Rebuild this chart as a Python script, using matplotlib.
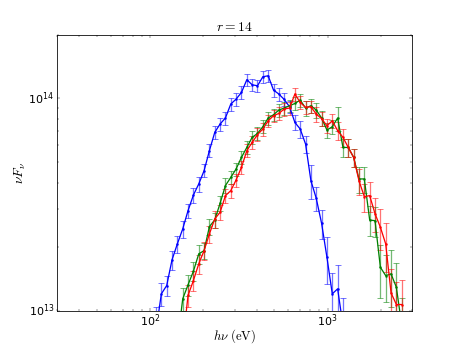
#!/usr/bin/env python3
# -*- coding: utf-8 -*-

"""
nuF_nu spectra at r = 14, three runs with error bars.
"""

import matplotlib
matplotlib.use("Agg")
import matplotlib.pyplot as plt
import numpy as np


DPI = 57.3

# shared photon-energy grid (eV)
ENERGY = [
    108.0, 115.8, 124.1, 133.0, 142.5, 152.8, 163.7, 175.5, 188.1, 201.6,
    216.0, 231.5, 248.1, 265.9, 285.0, 305.5, 327.4, 350.9, 376.1, 403.1,
    432.0, 463.0, 496.2, 531.8, 570.0, 610.9, 654.7, 701.7, 752.1, 806.1,
    863.9, 925.9, 992.4, 1063.6, 1140.0, 1222.0, 1309.0, 1403.0, 1504.0, 1612.0,
    1728.0, 1852.0, 1985.0, 2127.0, 2280.0, 2443.0, 2619.0,
]

# blue: grid index 0..35 (units of 1e13)
BLUE_FLUX = [
    0.80, 1.198, 1.311, 1.733, 2.061, 2.425, 2.957, 3.50, 3.95, 4.56,
    5.67, 6.91, 7.57, 8.08, 9.40, 9.92, 10.66, 12.24, 11.59, 11.46,
    12.64, 12.78, 10.94, 10.48, 9.88, 9.13, 7.70, 7.17, 6.09, 4.09,
    3.38, 2.576, 1.782, 1.198, 1.265, 0.85,
]
BLUE_REL = [
    0.30, 0.12, 0.11, 0.10, 0.09, 0.09, 0.08, 0.08, 0.08, 0.07,
    0.07, 0.07, 0.07, 0.07, 0.07, 0.07, 0.07, 0.07, 0.07, 0.07,
    0.07, 0.07, 0.07, 0.07, 0.07, 0.07, 0.08, 0.09, 0.09, 0.18,
    0.13, 0.16, 0.25, 0.25, 0.30, 0.35,
]

# green: grid index 4..46
GREEN_FLUX = [
    0.70, 1.135, 1.321, 1.531, 1.849, 1.916, 2.486, 2.673, 3.20, 3.88,
    4.24, 4.65, 5.27, 5.87, 6.55, 6.83, 7.35, 8.08, 8.37, 8.81,
    9.00, 9.23, 9.46, 9.82, 9.00, 9.23, 8.81, 8.08, 7.09, 7.35,
    8.08, 5.87, 5.87, 5.27, 4.17, 4.17, 2.67, 2.65, 1.599, 1.46,
    1.488, 1.287, 0.85,
]
GREEN_REL = [
    0.20, 0.12, 0.11, 0.10, 0.10, 0.09, 0.09, 0.08, 0.08, 0.08,
    0.07, 0.07, 0.07, 0.07, 0.07, 0.07, 0.07, 0.07, 0.07, 0.07,
    0.07, 0.07, 0.07, 0.07, 0.08, 0.08, 0.08, 0.08, 0.08, 0.08,
    0.13, 0.10, 0.10, 0.10, 0.14, 0.14, 0.16, 0.16, 0.28, 0.25,
    0.30, 0.30, 0.35,
]

# red: grid index 5..46
RED_FLUX = [
    0.70, 1.177, 1.384, 1.659, 1.916, 2.296, 2.702, 2.903, 3.478, 3.673,
    4.125, 4.728, 5.665, 6.20, 6.74, 7.17, 7.84, 8.28, 8.49, 8.91,
    9.00, 10.48, 9.57, 9.06, 9.13, 8.43, 8.02, 7.43, 7.84, 7.04,
    6.55, 5.87, 5.27, 4.09, 3.44, 3.48, 2.86, 2.47, 2.06, 1.211,
    1.067, 1.067,
]
RED_REL = [
    0.20, 0.12, 0.11, 0.10, 0.10, 0.09, 0.09, 0.08, 0.08, 0.08,
    0.07, 0.07, 0.07, 0.07, 0.07, 0.07, 0.07, 0.07, 0.07, 0.07,
    0.07, 0.07, 0.07, 0.07, 0.07, 0.08, 0.08, 0.08, 0.08, 0.10,
    0.10, 0.10, 0.10, 0.14, 0.15, 0.16, 0.18, 0.22, 0.26, 0.30,
    0.28, 0.30,
]

SERIES = [
    (0, BLUE_FLUX, BLUE_REL, "b"),
    (4, GREEN_FLUX, GREEN_REL, "g"),
    (5, RED_FLUX, RED_REL, "r"),
]


def main():
    plt.style.use("classic")
    plt.rcParams.update({
        "figure.facecolor": "white",
        "savefig.facecolor": "white",
        "mathtext.fontset": "cm",
        "font.size": 14,
        "xtick.major.pad": 3,
    })

    fig = plt.figure(figsize=(458 / DPI, 345 / DPI), dpi=DPI)
    ax = fig.add_subplot(111)

    for start, flux, rel, color in SERIES:
        e = np.array(ENERGY[start:start + len(flux)])
        f = np.array(flux) * 1e13
        err = f * np.array(rel)
        _, caps, bars = ax.errorbar(e, f, yerr=err, fmt=".-", color=color,
                                    ecolor=color, lw=1.6, ms=5, mec=color,
                                    elinewidth=1.6, capsize=4, capthick=1.2)
        # lighter, semi-transparent error bars
        for c in caps:
            c.set_alpha(0.55)
        for b in bars:
            b.set_alpha(0.55)

    ax.set_xscale("log")
    ax.set_yscale("log")
    ax.set_xlim(30, 3000)
    ax.set_ylim(1e13, 2e14)
    ax.set_title(r"$r=14$", fontsize=17, pad=4)
    ax.set_xlabel(r"$h\nu\ (\mathrm{eV})$", fontsize=16, labelpad=-3)
    ax.set_ylabel(r"$\nu F_\nu$", fontsize=17, labelpad=1)

    fig.savefig("out.png", dpi=DPI, facecolor="white")
    plt.close(fig)


if __name__ == "__main__":
    main()
